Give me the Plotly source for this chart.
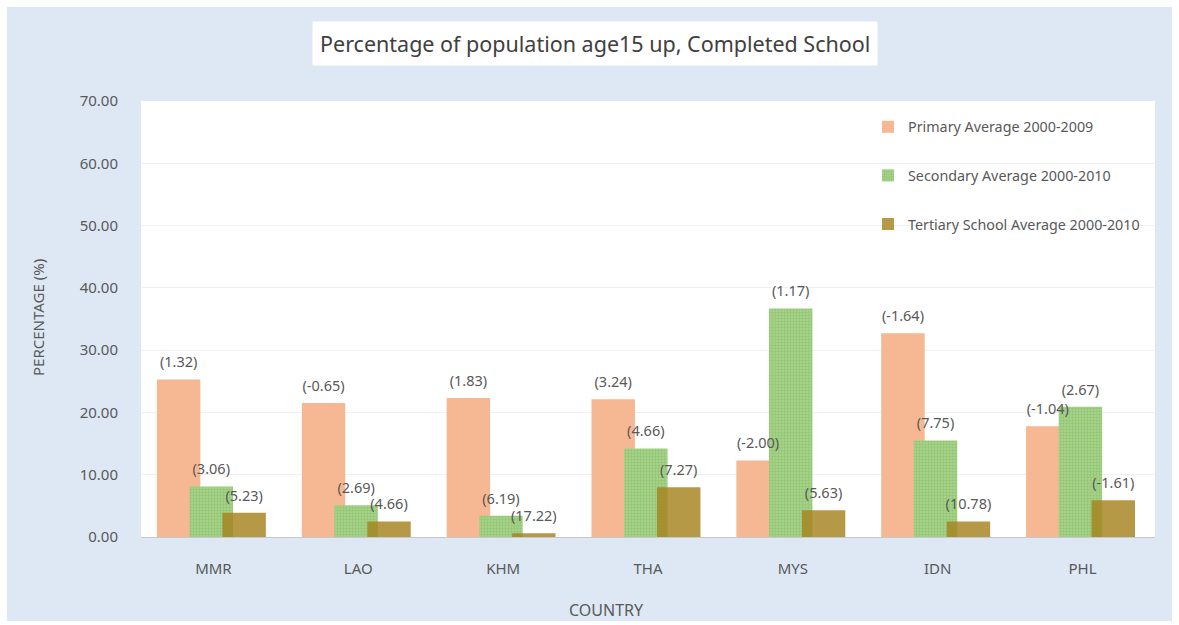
import plotly.graph_objects as go

countries = ["MMR", "LAO", "KHM", "THA", "MYS", "IDN", "PHL"]
primary = [25.3, 21.5, 22.3, 22.1, 12.3, 32.7, 17.8]
secondary = [8.1, 5.1, 3.4, 14.2, 36.7, 15.5, 20.9]
tertiary = [3.9, 2.5, 0.6, 8.0, 4.3, 2.5, 5.9]
primary_labels = ["(1.32)", "(-0.65)", "(1.83)", "(3.24)", "(-2.00)", "(-1.64)", "(-1.04)"]
secondary_labels = ["(3.06)", "(2.69)", "(6.19)", "(4.66)", "(1.17)", "(7.75)", "(2.67)"]
tertiary_labels = ["(5.23)", "(4.66)", "(17.22)", "(7.27)", "(5.63)", "(10.78)", "(-1.61)"]
y_ticks = [0, 10, 20, 30, 40, 50, 60, 70]
y_ticktext = ["0.00", "10.00", "20.00", "30.00", "40.00", "50.00", "60.00", "70.00"]

FONT = "Noto Sans"
TXT = "#595959"

W, H = 1179, 625
L, R, T, B = 141, 24, 101, 88
pw, ph = W - L - R, H - T - B

BAR_W = 0.30
OFFSETS = [-0.39, -0.165, 0.062]


def px_x(p):
    return (p - L) / pw


def px_y(p):
    return (H - B - p) / ph


series = [
    ("Primary Average 2000-2009", primary, primary_labels,
     dict(color="#F5B893", line=dict(width=0))),
    ("Secondary Average 2000-2010", secondary, secondary_labels,
     dict(color="#A6D18A", line=dict(width=0),
          pattern=dict(shape=".", fgcolor="#7FBA5B", bgcolor="#A9D38E",
                       size=3, solidity=0.5))),
    ("Tertiary School Average 2000-2010", tertiary, tertiary_labels,
     dict(color="rgba(165,130,30,0.82)", line=dict(width=0))),
]

fig = go.Figure()
for k, (name, vals, labs, mk) in enumerate(series):
    fig.add_trace(go.Bar(
        x=countries, y=vals, name=name, legendgroup=name,
        marker=mk, width=BAR_W, offset=OFFSETS[k],
        hoverinfo="skip",
    ))

# value labels drawn on top of all bars
for k, (name, vals, labs, mk) in enumerate(series):
    fig.add_trace(go.Scatter(
        x=[i + OFFSETS[k] + BAR_W / 2 for i in range(len(countries))],
        y=vals, xaxis="x2", mode="text+markers",
        marker=dict(size=12, opacity=0),
        text=labs, textposition="top center",
        textfont=dict(family=FONT, size=14.5, color=TXT),
        showlegend=False, hoverinfo="skip", cliponaxis=False,
    ))

shapes = [
    dict(type="rect", xref="paper", yref="paper", layer="below",
         x0=px_x(7), x1=px_x(1172), y0=px_y(621), y1=px_y(7),
         fillcolor="#DDE8F4", line=dict(width=0)),
    dict(type="rect", xref="paper", yref="paper", layer="below",
         x0=0, x1=1, y0=0, y1=1,
         fillcolor="white", line=dict(width=0)),
]

annotations = [
    dict(text="Percentage of population age15 up, Completed School",
         xref="paper", yref="paper", x=px_x(595), y=px_y(44),
         xanchor="center", yanchor="middle", showarrow=False,
         font=dict(family=FONT, size=21.5, color="#404040"),
         bgcolor="white", borderpad=7),
    dict(text="PERCENTAGE (%)", xref="paper", yref="paper",
         x=px_x(38), y=px_y(318), textangle=-90,
         xanchor="center", yanchor="middle", showarrow=False,
         font=dict(family=FONT, size=15, color=TXT)),
    dict(text="COUNTRY", xref="paper", yref="paper",
         x=px_x(606), y=px_y(610),
         xanchor="center", yanchor="middle", showarrow=False,
         font=dict(family=FONT, size=16, color=TXT)),
]

fig.update_layout(
    width=W, height=H,
    margin=dict(l=L, r=R, t=T, b=B, pad=0),
    paper_bgcolor="white",
    plot_bgcolor="rgba(0,0,0,0)",
    barmode="overlay",
    font=dict(family=FONT, color=TXT),
    shapes=shapes,
    annotations=annotations,
    legend=dict(
        x=px_x(868), y=px_y(111), xanchor="left", yanchor="top",
        bgcolor="rgba(0,0,0,0)",
        font=dict(family=FONT, size=14.3, color=TXT),
        tracegroupgap=27, traceorder="grouped",
    ),
    xaxis=dict(
        type="category", range=[-0.5, 6.5],
        showgrid=False, showline=True, linecolor="#C8C8C8", linewidth=1,
        ticks="", ticklabelstandoff=18,
        tickfont=dict(family=FONT, size=15, color=TXT),
        fixedrange=True,
    ),
    xaxis2=dict(
        overlaying="x", range=[-0.5, 6.5], visible=False, fixedrange=True,
    ),
    yaxis=dict(
        range=[0, 70], tickvals=y_ticks, ticktext=y_ticktext,
        showgrid=True, gridcolor="#F0F0F0", gridwidth=1,
        zeroline=False, showline=False, ticks="",
        ticklabelstandoff=22,
        tickfont=dict(family=FONT, size=15, color=TXT),
        fixedrange=True,
    ),
)

fig.write_html("out.html",
               config={"displayModeBar": False},
               post_script="document.body.style.margin='0px';")
